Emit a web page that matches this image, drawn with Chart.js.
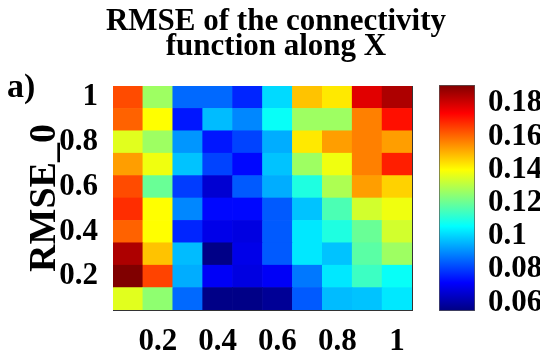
<!DOCTYPE html>
<html>
<head>
<meta charset="utf-8">
<script src="https://cdn.jsdelivr.net/npm/chart.js@4.4.1/dist/chart.umd.min.js"></script>
<style>
  body { margin: 0; background: #fff; }
  #wrap { position: relative; width: 540px; height: 358px; overflow: hidden; }
  #heat { position: absolute; left: 0; top: 0; }
  #bar { position: absolute; left: 430px; top: 60px; }
  #panel { position: absolute; left: 7px; top: 69px; font: bold 34px/1 'Liberation Serif', serif; color: #000; }
</style>
</head>
<body>
<div id="wrap">
  <canvas id="heat" width="540" height="358"></canvas>
  <canvas id="bar" width="110" height="290"></canvas>
  <div id="panel">a)</div>
</div>
<script>
// grid: X along the columns, RMSE_0 along the rows
const xLabels = ['0.1', '0.2', '0.3', '0.4', '0.5', '0.6', '0.7', '0.8', '0.9', '1'];
const yCenters = [0.1, 0.2, 0.3, 0.4, 0.5, 0.6, 0.7, 0.8, 0.9, 1];

// RMSE values, one row per RMSE_0 (bottom row first)
const rmse = [
    [0.136, 0.125, 0.086, 0.056, 0.056, 0.058, 0.084, 0.097, 0.098, 0.103],
    [0.191, 0.165, 0.095, 0.071, 0.068, 0.071, 0.088, 0.103, 0.114, 0.107],
    [0.185, 0.148, 0.097, 0.056, 0.069, 0.084, 0.103, 0.098, 0.118, 0.127],
    [0.161, 0.140, 0.077, 0.069, 0.068, 0.084, 0.103, 0.110, 0.120, 0.134],
    [0.168, 0.140, 0.090, 0.073, 0.073, 0.084, 0.098, 0.116, 0.134, 0.138],
    [0.164, 0.120, 0.080, 0.066, 0.084, 0.095, 0.110, 0.129, 0.153, 0.146],
    [0.153, 0.138, 0.098, 0.081, 0.073, 0.098, 0.127, 0.138, 0.157, 0.170],
    [0.136, 0.127, 0.092, 0.075, 0.081, 0.095, 0.143, 0.153, 0.157, 0.153],
    [0.161, 0.140, 0.075, 0.097, 0.090, 0.107, 0.127, 0.127, 0.157, 0.172],
    [0.164, 0.127, 0.086, 0.086, 0.077, 0.101, 0.148, 0.143, 0.178, 0.185]
];

const yTicks = [0.2, 0.4, 0.6, 0.8, 1];
const cbTicks = [0.06, 0.08, 0.1, 0.12, 0.14, 0.16, 0.18];
const cMin = 0.055;
const cMax = 0.191;

const serif = "'Liberation Serif', 'Times New Roman', serif";
const tickFont = { family: serif, size: 31, weight: 'bold' };

// matlab-style jet colormap
function jetAt(t) {
    t = Math.min(1, Math.max(0, t));
    const c = x => Math.round(255 * Math.min(1, Math.max(0, 1.5 - Math.abs(x))));
    return `rgb(${c(4 * t - 3)},${c(4 * t - 2)},${c(4 * t - 1)})`;
}

function jet(v) {
    return jetAt((v - cMin) / (cMax - cMin));
}

const heatSets = rmse.map((row, r) => ({
    label: 'RMSE_0 = ' + yCenters[r],
    data: row.map(() => [yCenters[r] - 0.05, yCenters[r] + 0.05]),
    backgroundColor: row.map(jet),
    borderWidth: 0,
    grouped: false,
    barPercentage: 1,
    categoryPercentage: 1
}));

const frame = { display: true, color: '#333', width: 1 };

new Chart(document.getElementById('heat'), {
    type: 'bar',
    data: { labels: xLabels, datasets: heatSets },
    options: {
        responsive: false,
        animation: false,
        layout: { padding: { left: 12, top: 0, right: 0, bottom: 0 } },
        plugins: {
            legend: { display: false },
            tooltip: { enabled: false },
            title: {
                display: true,
                text: ['RMSE of the connectivity', 'function along X'],
                color: '#000',
                font: { family: serif, size: 31, weight: 'bold', lineHeight: '25px' },
                padding: { top: 9, bottom: 27 }
            }
        },
        scales: {
            x: {
                type: 'category',
                grid: { display: false },
                border: frame,
                afterFit: s => { s.height = 48; },
                ticks: {
                    autoSkip: false,
                    maxRotation: 0,
                    padding: 5,
                    color: '#000',
                    font: tickFont,
                    callback: function (v, i) {
                        return i % 2 === 1 ? this.getLabelForValue(v) : '';
                    }
                }
            },
            x2: {
                position: 'top',
                grid: { display: false },
                border: frame,
                ticks: { display: false },
                afterFit: s => { s.height = 0; }
            },
            y: {
                type: 'linear',
                min: 0.05,
                max: 1.05,
                afterBuildTicks: s => { s.ticks = yTicks.map(v => ({ value: v })); },
                afterFit: s => { s.width = 101; },
                grid: { display: false },
                border: frame,
                ticks: {
                    padding: 7,
                    color: '#000',
                    font: tickFont,
                    callback: v => String(v)
                },
                title: {
                    display: true,
                    text: 'RMSE_0',
                    color: '#000',
                    font: { family: serif, size: 38, weight: 'bold', lineHeight: 1 },
                    padding: { top: 14, bottom: 0 }
                }
            },
            y2: {
                type: 'linear',
                position: 'right',
                min: 0.05,
                max: 1.05,
                grid: { display: false },
                border: frame,
                ticks: { display: false },
                afterFit: s => { s.width = 128; }
            }
        }
    }
});

// colour bar: one floating bar spanning the colour limits, filled with the jet ramp
function jetGradient(chart) {
    const area = chart.chartArea;
    if (!area) return null;
    const g = chart.ctx.createLinearGradient(0, area.bottom, 0, area.top);
    for (let i = 0; i <= 8; i++) {
        g.addColorStop(i / 8, jetAt(i / 8));
    }
    return g;
}

new Chart(document.getElementById('bar'), {
    type: 'bar',
    data: {
        labels: ['RMSE'],
        datasets: [{
            data: [[cMin, cMax]],
            backgroundColor: ctx => jetGradient(ctx.chart),
            borderColor: '#555',
            borderWidth: 1,
            borderSkipped: false,
            barPercentage: 1,
            categoryPercentage: 1
        }]
    },
    options: {
        responsive: false,
        animation: false,
        layout: { padding: { left: 9, top: 25, right: 0, bottom: 39 } },
        plugins: { legend: { display: false }, tooltip: { enabled: false } },
        scales: {
            x: { display: false },
            y: {
                position: 'right',
                min: cMin,
                max: cMax,
                afterBuildTicks: s => { s.ticks = cbTicks.map(v => ({ value: v })); },
                afterFit: s => { s.width = 65; },
                grid: { display: false },
                border: { display: false },
                ticks: {
                    autoSkip: false,
                    padding: 5,
                    color: '#000',
                    font: tickFont,
                    callback: v => String(v)
                }
            }
        }
    }
});
</script>
</body>
</html>
